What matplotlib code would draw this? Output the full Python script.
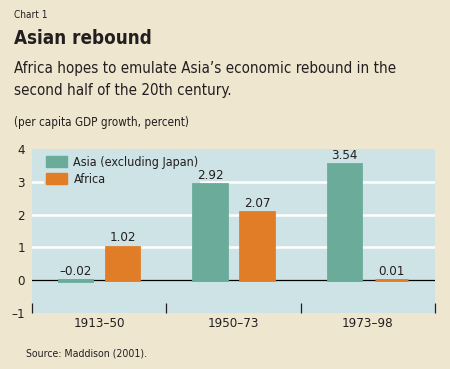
import numpy as np
import matplotlib.pyplot as plt
import matplotlib.patches as mpatches

# data
periods = ['1913–50', '1950–73', '1973–98']
asia = [-0.02, 2.92, 3.54]
africa = [1.02, 2.07, 0.01]
series_names = ['Asia (excluding Japan)', 'Africa']
yticks = [-1, 0, 1, 2, 3, 4]

# colours
bg = '#efe6cf'
panel = '#cde3e6'
green = '#6aab9a'
orange = '#e07d26'
txt = '#231f20'

plt.rcParams['font.family'] = ['DejaVu Sans']
plt.rcParams['font.stretch'] = 'condensed'

fig = plt.figure(figsize=(4.5, 3.69), dpi=100, facecolor=bg)
ax = fig.add_axes([32 / 450, 1 - 313 / 369, 403 / 450, 164 / 369])
ax.set_facecolor(panel)

x = np.arange(len(periods))
w = 0.25
off = 0.175
# edge in the same colour so the near-zero bars still show up
b1 = ax.bar(x - off, asia, w, color=green, edgecolor=green, linewidth=2, zorder=3)
b2 = ax.bar(x + off, africa, w, color=orange, edgecolor=orange, linewidth=2, zorder=3)

# value labels above bars
for xs, vals in [(x - off, asia), (x + off, africa)]:
    for xi, v in zip(xs, vals):
        ax.text(xi, max(v, 0) + 0.07, f'{v:.2f}'.replace('-', '–'), ha='center', va='bottom',
                fontsize=9.5, color=txt, zorder=6)

ax.set_xlim(-0.5, 2.5)
ax.set_ylim(-1, 4)
ax.set_yticks(yticks)
ax.set_yticklabels([str(t).replace('-', '–') for t in yticks], fontsize=9.5, color=txt)
for y in [1, 2, 3]:
    ax.axhline(y, color='white', linewidth=1.8, zorder=1)
ax.axhline(0, color='black', linewidth=0.9, zorder=2.5)

# category separators as ticks
ax.set_xticks([-0.5, 0.5, 1.5, 2.5])
ax.set_xticklabels([])
ax.set_xticks(x, minor=True)
ax.set_xticklabels(periods, minor=True, fontsize=9.5, color=txt)
ax.tick_params(axis='x', which='major', direction='in', length=7, width=0.9, color=txt)
ax.tick_params(axis='x', which='minor', length=0, pad=3)
ax.tick_params(axis='y', length=0, pad=5)
for s in ax.spines.values():
    s.set_visible(False)

# legend sits over the gridlines but under the bars
handles = [mpatches.Patch(color=green, label=series_names[0]),
           mpatches.Patch(color=orange, label=series_names[1])]
leg = ax.legend(handles=handles, loc='upper left', bbox_to_anchor=(0.03, 0.97),
                fontsize=9, frameon=True, facecolor=panel, edgecolor='none', framealpha=1,
                handlelength=1.7, handleheight=1.0, handletextpad=0.5, labelspacing=0.35,
                borderpad=0.15, borderaxespad=0)
leg.set_zorder(2)
for t in leg.get_texts():
    t.set_color(txt)

fig.text(14 / 450, 1 - 15 / 369, 'Chart 1', fontsize=7.2, color=txt, va='center')
fig.text(14 / 450, 1 - 38 / 369, 'Asian rebound', fontsize=13.5, fontweight='bold', color=txt, va='center')
fig.text(14 / 450, 1 - 68 / 369, 'Africa hopes to emulate Asia’s economic rebound in the',
         fontsize=10.9, color=txt, va='center')
fig.text(14 / 450, 1 - 90 / 369, 'second half of the 20th century.', fontsize=10.9, color=txt, va='center')
fig.text(14 / 450, 1 - 123 / 369, '(per capita GDP growth, percent)', fontsize=8.4, color=txt, va='center')
fig.text(26 / 450, 1 - 353 / 369, 'Source: Maddison (2001).', fontsize=7.6, color=txt, va='center')

fig.savefig('out.png', dpi=100, facecolor=bg)
